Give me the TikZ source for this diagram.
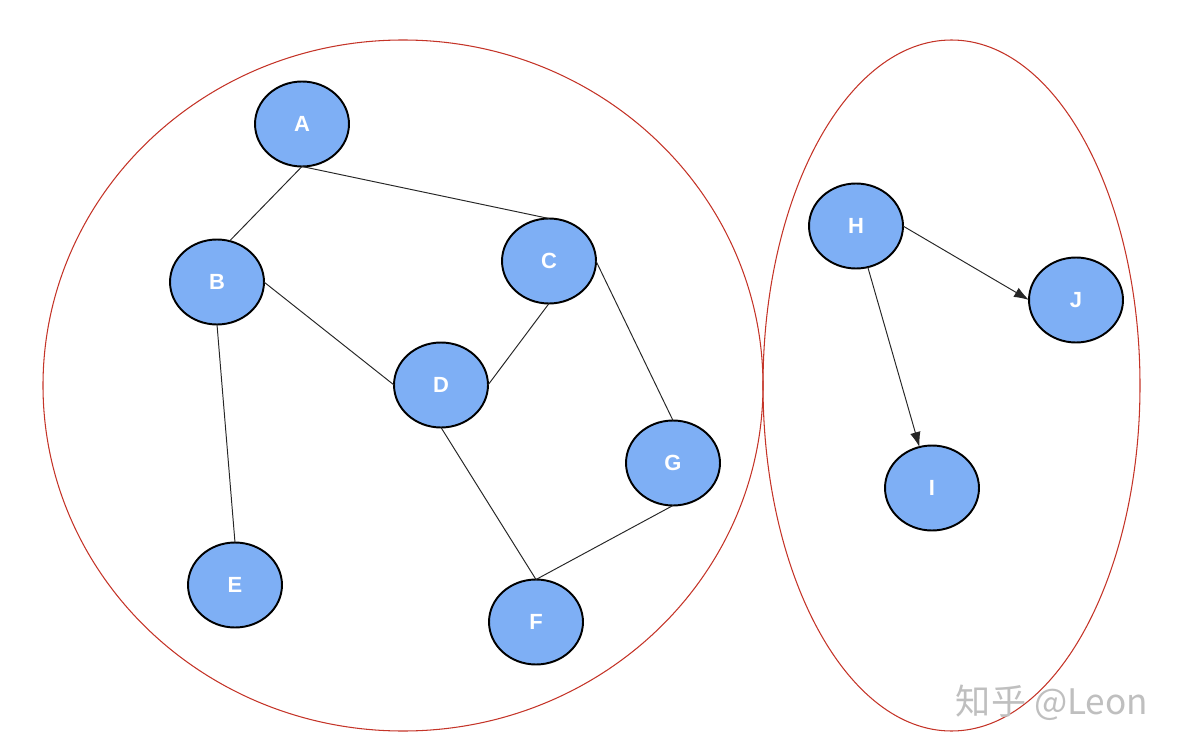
\documentclass[tikz,border=0pt]{standalone}
\usepackage{fontspec}
\setsansfont{Liberation Sans}
\newfontfamily\cjk{Noto Sans CJK SC}
\usepackage{xcolor}
\usepackage{tikz}
\usetikzlibrary{arrows.meta,shapes.geometric}

\definecolor{vtxblue}{RGB}{126,175,245}
\definecolor{grpred}{RGB}{196,52,40}

\begin{document}
\begin{tikzpicture}[
  x=0.02cm, y=-0.02cm,
  vtx/.style={draw, ellipse, fill=vtxblue, line width=1.1pt,
              minimum width=1.88cm, minimum height=1.7cm, inner sep=0pt,
              outer sep=0pt, text=white,
              font=\sffamily\bfseries\fontsize{12.5}{14}\selectfont},
  grp/.style={draw=grpred, line width=0.6pt},
  ln/.style={line width=0.55pt, black!85},
  arr/.style={ln, -{Latex[length=3mm, width=2.1mm]}},
]
  \useasboundingbox (0,0) rectangle (1180,750);

  % groups
  \draw[grp] (403,385.5) ellipse [x radius=360, y radius=345.5];
  \draw[grp] (951.5,385.5) ellipse [x radius=188.5, y radius=345.5];

  % vertices
  \node[vtx] (A) at (302,124) {A};
  \node[vtx] (B) at (217,282) {B};
  \node[vtx] (C) at (549,261) {C};
  \node[vtx] (D) at (441,385) {D};
  \node[vtx] (E) at (235,585) {E};
  \node[vtx] (F) at (536,622) {F};
  \node[vtx] (G) at (673,463) {G};
  \node[vtx] (H) at (856,226) {H};
  \node[vtx] (I) at (932,488) {I};
  \node[vtx] (J) at (1076,300) {J};

  % undirected edges
  \draw[ln] (A.south) -- (B.73);
  \draw[ln] (A.south) -- (C.north);
  \draw[ln] (B.east) -- (D.west);
  \draw[ln] (B.south) -- (E.north);
  \draw[ln] (C.south) -- (D.east);
  \draw[ln] (C.east) -- (G.north);
  \draw[ln] (D.south) -- (F.north);
  \draw[ln] (G.south) -- (F.north);

  % directed edges
  \draw[arr] (H.east) -- (J.west);
  \draw[arr] (H.-74) -- (I.107);

  \node[text=black!25, font=\cjk\fontsize{20}{24}\selectfont] (mark) at (1052,703) {知乎 @Leon};
\end{tikzpicture}
\end{document}
